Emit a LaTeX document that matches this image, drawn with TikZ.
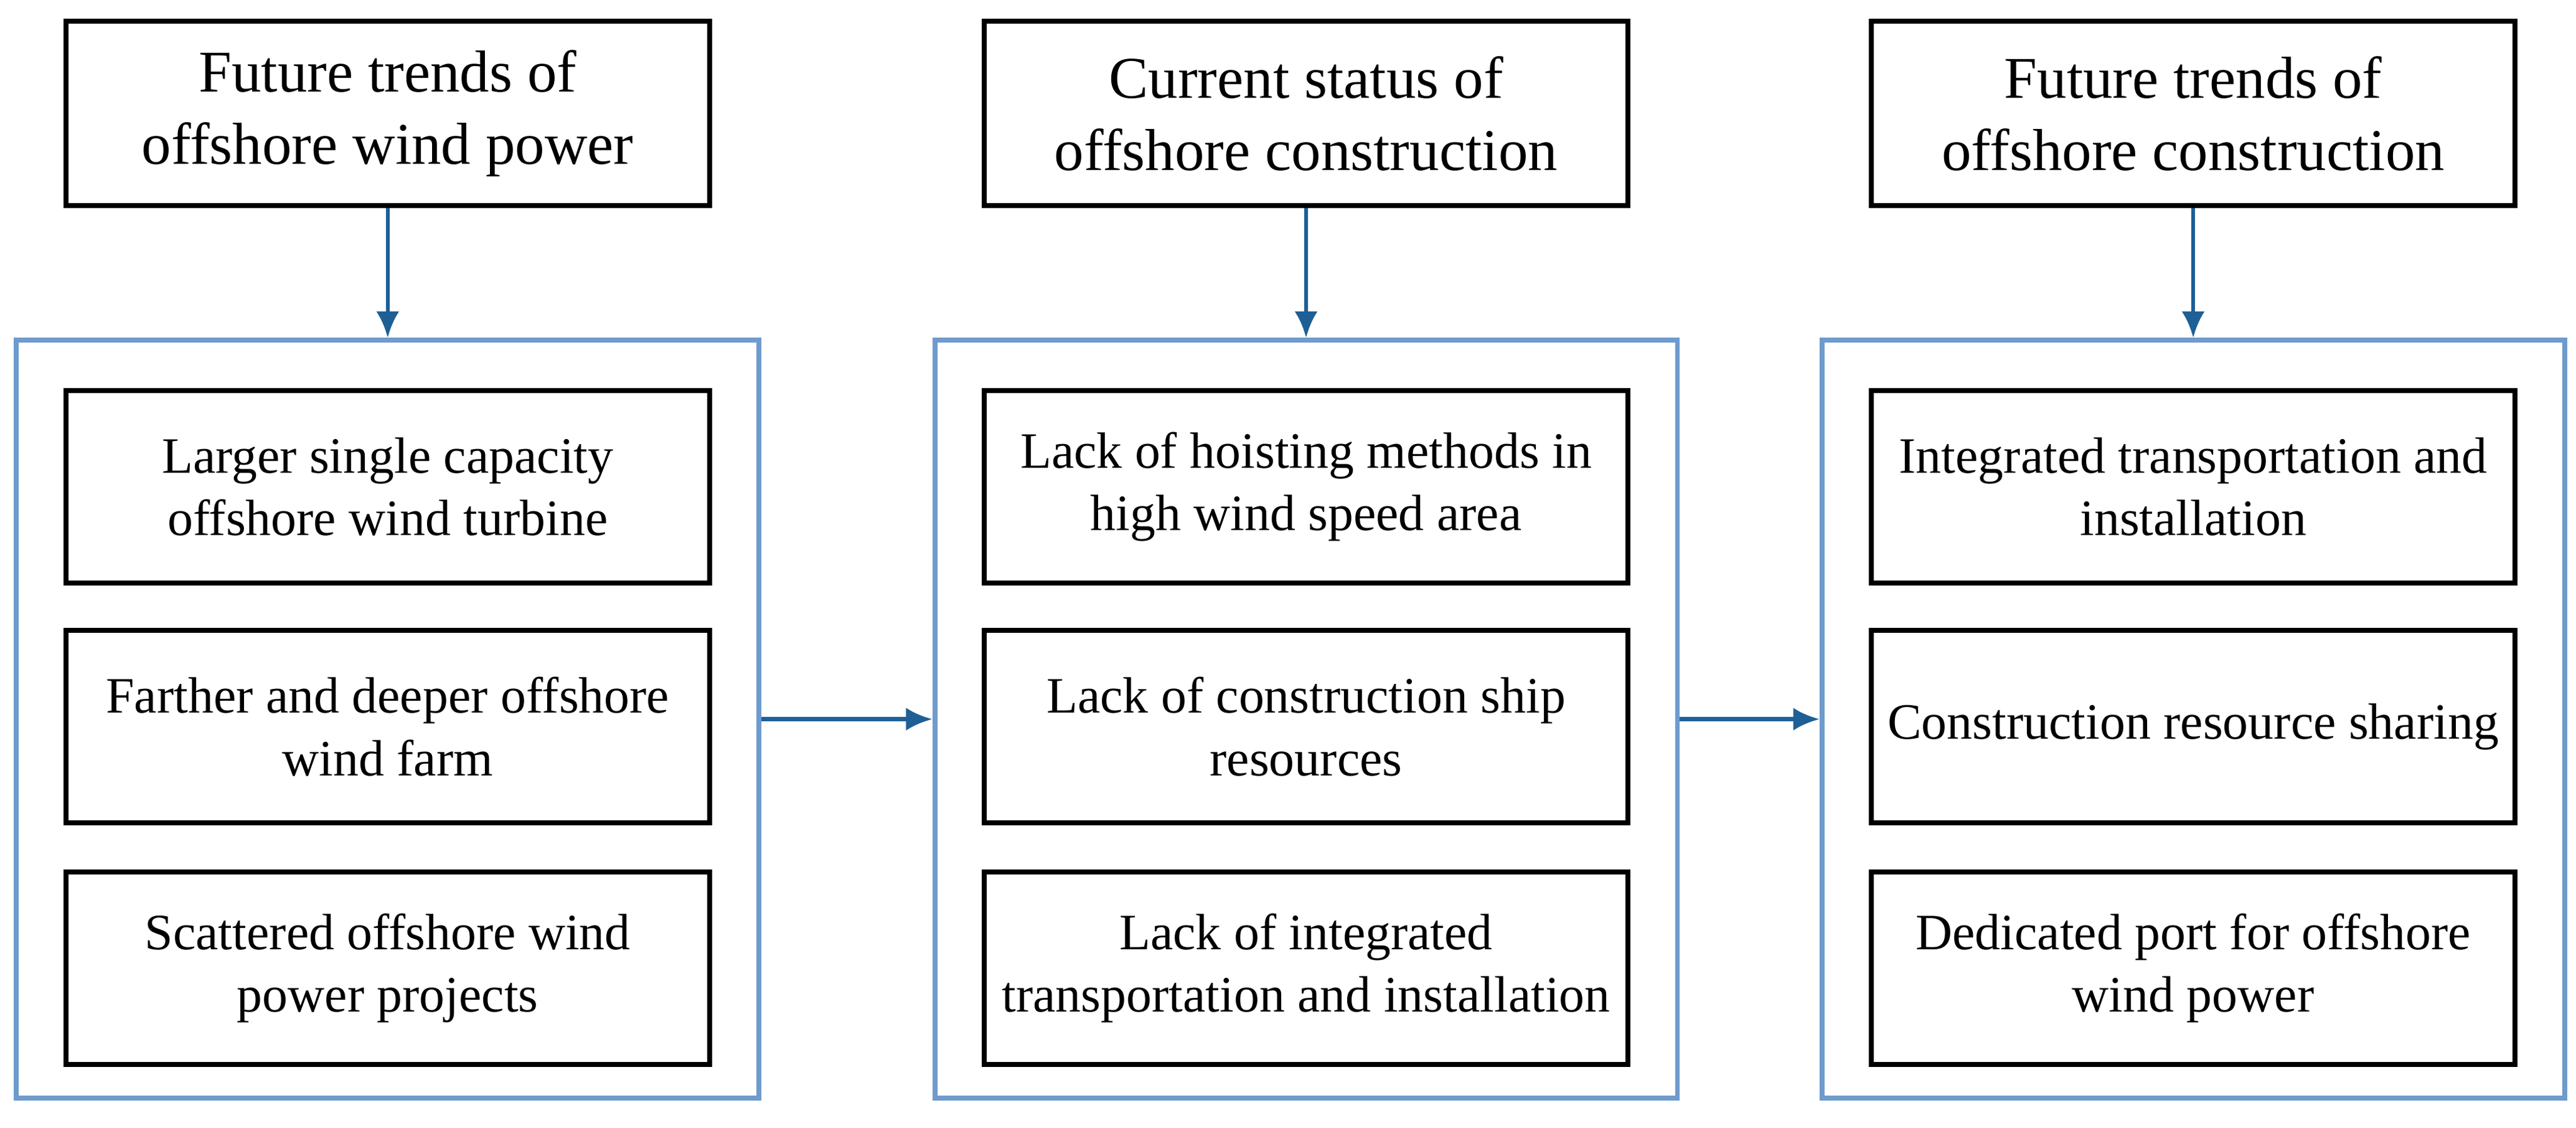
\documentclass[tikz,border=0pt]{standalone}
\usepackage{fontspec}
\setmainfont{Liberation Serif}
\usetikzlibrary{arrows.meta}
\begin{document}
\begin{tikzpicture}[x=1pt,y=-1pt,
 top/.style={draw=black,line width=3pt,minimum width=392pt,minimum height=112pt,align=center,font=\fontsize{36}{44}\selectfont,inner sep=0pt},
 item/.style={draw=black,line width=3pt,minimum width=392pt,minimum height=117pt,align=center,font=\fontsize{31}{38}\selectfont,inner sep=0pt},
 frame/.style={draw={rgb,255:red,110;green,155;blue,205},line width=3pt},
 arr/.style={draw={rgb,255:red,30;green,95;blue,150},line width=2.5pt,-{Latex[length=16pt,width=14pt]}}]
\useasboundingbox (0,0) rectangle (1568,686);
\foreach \i/\cx in {1/236,2/795,3/1335}{
  \node[frame,minimum width=452pt,minimum height=461pt] (f\i) at (\cx,437.5) {};
}
\node[top] (t1) at (236,69) {Future trends of\\offshore wind power};
\node[top] (t2) at (795,69) {Current status of\\offshore construction};
\node[top] (t3) at (1335,69) {Future trends of\\offshore construction};
\node[item] (a1) at (236,296) {Larger single capacity\\offshore wind turbine};
\node[item] (a2) at (236,442) {Farther and deeper offshore\\wind farm};
\node[item] (a3) at (236,589) {Scattered offshore wind\\power projects};
\node[item] (b1) at (795,296) {Lack of hoisting methods in\\high wind speed area};
\node[item] (b2) at (795,442) {Lack of construction ship\\resources};
\node[item] (b3) at (795,589) {Lack of integrated\\transportation and installation};
\node[item] (c1) at (1335,296) {Integrated transportation and\\installation};
\node[item] (c2) at (1335,442) {Construction resource sharing};
\node[item] (c3) at (1335,589) {Dedicated port for offshore\\wind power};
\foreach \i in {1,2,3}{\draw[arr] (t\i) -- (f\i);}
\draw[arr] (f1.east) -- (f2.west);
\draw[arr] (f2.east) -- (f3.west);
\end{tikzpicture}
\end{document}
